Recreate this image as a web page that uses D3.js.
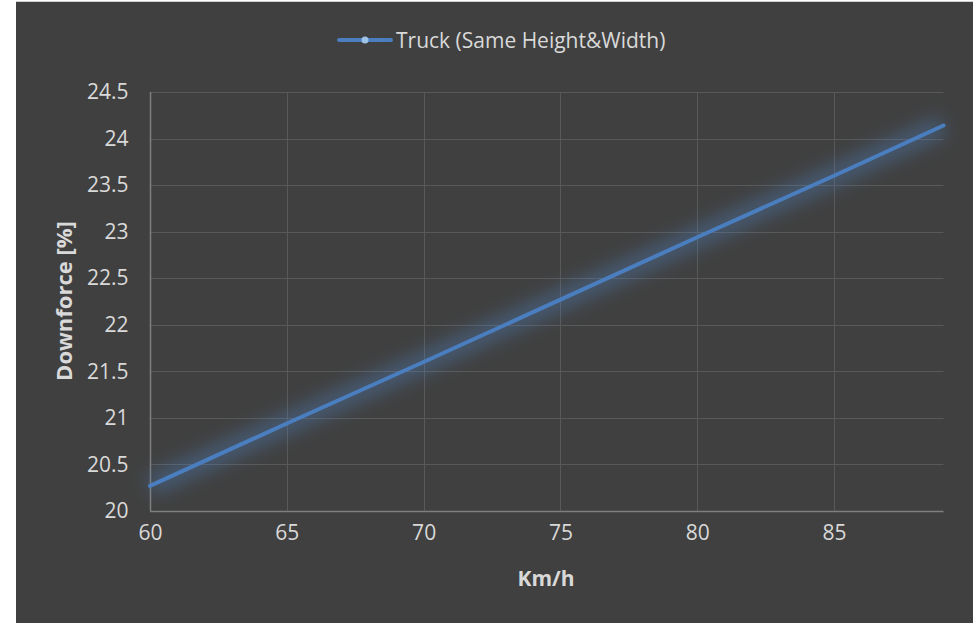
<!DOCTYPE html>
<html><head><meta charset="utf-8">
<script src="https://cdn.jsdelivr.net/npm/d3@7"></script>
<style>
html,body{margin:0;padding:0;background:#fff;}
svg{display:block;}
text{font-family:"Open Sans","Noto Sans",sans-serif;}
</style></head>
<body>
<svg id="c" width="973" height="623"></svg>
<script>
const speeds = [60, 65, 70, 75, 80, 85, 89];
const downforce = [20.27, 20.94, 21.6, 22.27, 22.94, 23.6, 24.14];
const xTicks = [60, 65, 70, 75, 80, 85];
const yTicks = [20, 20.5, 21, 21.5, 22, 22.5, 23, 23.5, 24, 24.5];
const seriesName = "Truck (Same Height&Width)";

const svg = d3.select("#c");
svg.append("rect").attr("x",0).attr("y",0).attr("width",973).attr("height",623).attr("fill","#ffffff");
svg.append("rect").attr("x",16).attr("y",2).attr("width",957).attr("height",621).attr("fill","#404040");
svg.append("line").attr("x1",16).attr("x2",973).attr("y1",1.5).attr("y2",1.5).attr("stroke","#d0d0d0").attr("stroke-width",1);

const x = d3.scaleLinear().domain([60, 89]).range([150, 943.5]);
const y = d3.scaleLinear().domain([20, 24.5]).range([511, 92]);

const defs = svg.append("defs");
const f = defs.append("filter").attr("id","glow").attr("x","-10%").attr("y","-50%").attr("width","120%").attr("height","200%");
f.append("feGaussianBlur").attr("in","SourceGraphic").attr("stdDeviation",9);

// gridlines
const g = svg.append("g");
g.selectAll(".hg").data(yTicks.slice(1)).enter().append("line")
  .attr("x1",150).attr("x2",943.5).attr("y1",d=>Math.round(y(d))+0.5).attr("y2",d=>Math.round(y(d))+0.5)
  .attr("stroke","#595959").attr("stroke-width",1);
g.selectAll(".vg").data(xTicks.slice(1)).enter().append("line")
  .attr("y1",92).attr("y2",511).attr("x1",d=>Math.round(x(d))+0.5).attr("x2",d=>Math.round(x(d))+0.5)
  .attr("stroke","#595959").attr("stroke-width",1);

// axes
const xAxis = d3.axisBottom(x).tickValues(xTicks).tickSize(0).tickPadding(14).tickFormat(d3.format("d"));
const yAxis = d3.axisLeft(y).tickValues(yTicks).tickSize(0).tickPadding(22).tickFormat(d=>String(d));
const gx = svg.append("g").attr("transform","translate(0,511.5)").call(xAxis);
const gy = svg.append("g").attr("transform","translate(150.5,0)").call(yAxis);
[gx,gy].forEach(a=>{
  a.select(".domain").attr("stroke","#7f7f7f").attr("stroke-width",1.5);
  a.selectAll("text").attr("fill","#d9d9d9").style("font-size","21px").style("font-family","'Open Sans','Noto Sans',sans-serif");
});
gx.select(".domain").attr("d","M150,0H943.5");
gy.select(".domain").attr("d","M0,92V511");

// line with glow
const line = d3.line().x((d,i)=>x(speeds[i])).y(d=>y(d));
svg.append("path").datum(downforce).attr("d",line).attr("fill","none")
  .attr("stroke","#4f81bd").attr("stroke-width",22).attr("opacity",0.4).attr("filter","url(#glow)");
svg.append("path").datum(downforce).attr("d",line).attr("fill","none")
  .attr("stroke","#4a7ebf").attr("stroke-width",4).attr("stroke-linecap","round");

// axis titles
svg.append("text").attr("x",546).attr("y",586).attr("text-anchor","middle")
  .attr("fill","#d9d9d9").style("font-size","21px").style("font-weight","bold").text("Km/h");
svg.append("text").attr("transform","translate(72,301) rotate(-90)").attr("text-anchor","middle")
  .attr("fill","#d9d9d9").style("font-size","22px").style("font-weight","bold").text("Downforce [%]");

// legend
const lg = svg.append("g");
lg.append("line").attr("x1",339).attr("x2",391).attr("y1",40).attr("y2",40).attr("stroke","#4a7ebf").attr("stroke-width",4).attr("stroke-linecap","round");
lg.append("circle").attr("cx",365).attr("cy",40).attr("r",3.5).attr("fill","#9dc3e6");
lg.append("text").attr("x",396).attr("y",48).attr("fill","#d9d9d9").style("font-size","21px").text(seriesName);
</script>
</body></html>
